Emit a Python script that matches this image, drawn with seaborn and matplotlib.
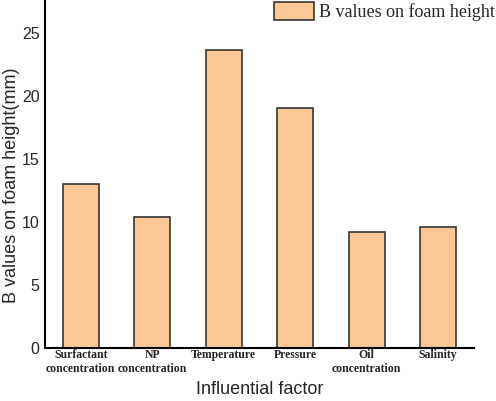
import pandas as pd
import matplotlib
matplotlib.use("Agg")
import matplotlib.pyplot as plt
import seaborn as sns

# data
factors = ["Surfactant\nconcentration", "NP\nconcentration", "Temperature",
           "Pressure", "Oil\nconcentration", "Salinity"]
b_values = [13.0, 10.4, 23.6, 19.0, 9.2, 9.6]
series_name = "B values on foam height"

df = pd.DataFrame({"factor": factors, "B": b_values, "series": series_name})

sns.set_theme(style="white")
plt.rcParams["font.family"] = ["Liberation Sans", "DejaVu Sans"]

fig = plt.figure(figsize=(4.96, 4.01), dpi=100)
ax = fig.add_axes([45 / 496, (401 - 347.5) / 401, (474 - 45) / 496, 347.5 / 401])

sns.barplot(data=df, x="factor", y="B", hue="series", palette=["#FAC896"],
            width=0.5, edgecolor="#363636", linewidth=1.2, saturation=1, ax=ax)

ax.set_xlim(-0.5, 5.5)
ax.set_ylim(0, 27.6)
ax.set_yticks([0, 5, 10, 15, 20, 25])
ax.tick_params(axis="y", labelsize=11.5, length=0, pad=4)
ax.tick_params(axis="x", length=0, pad=1)
for lbl in ax.get_xticklabels():
    lbl.set_fontfamily(["Liberation Serif", "DejaVu Serif"])
    lbl.set_fontweight("bold")
    lbl.set_fontsize(8.5)

ax.set_xlabel("Influential factor", fontsize=13)
ax.set_ylabel("B values on foam height(mm)", fontsize=13)
ax.xaxis.set_label_coords(0.5, -0.097)
ax.yaxis.set_label_coords(-0.058, 0.466)

sns.despine(ax=ax)
for side in ["left", "bottom"]:
    ax.spines[side].set_color("black")
    ax.spines[side].set_linewidth(1.5)

# legend sits in the top right corner of the figure, no frame
leg = ax.legend(loc="upper right", bbox_to_anchor=(1.0, 0.998),
                bbox_transform=fig.transFigure, frameon=False,
                prop={"family": ["Liberation Serif", "DejaVu Serif"], "size": 13},
                handlelength=2.2, handleheight=1.15, handletextpad=0.3,
                borderaxespad=0, borderpad=0.05)

fig.savefig("out.png", dpi=100)
